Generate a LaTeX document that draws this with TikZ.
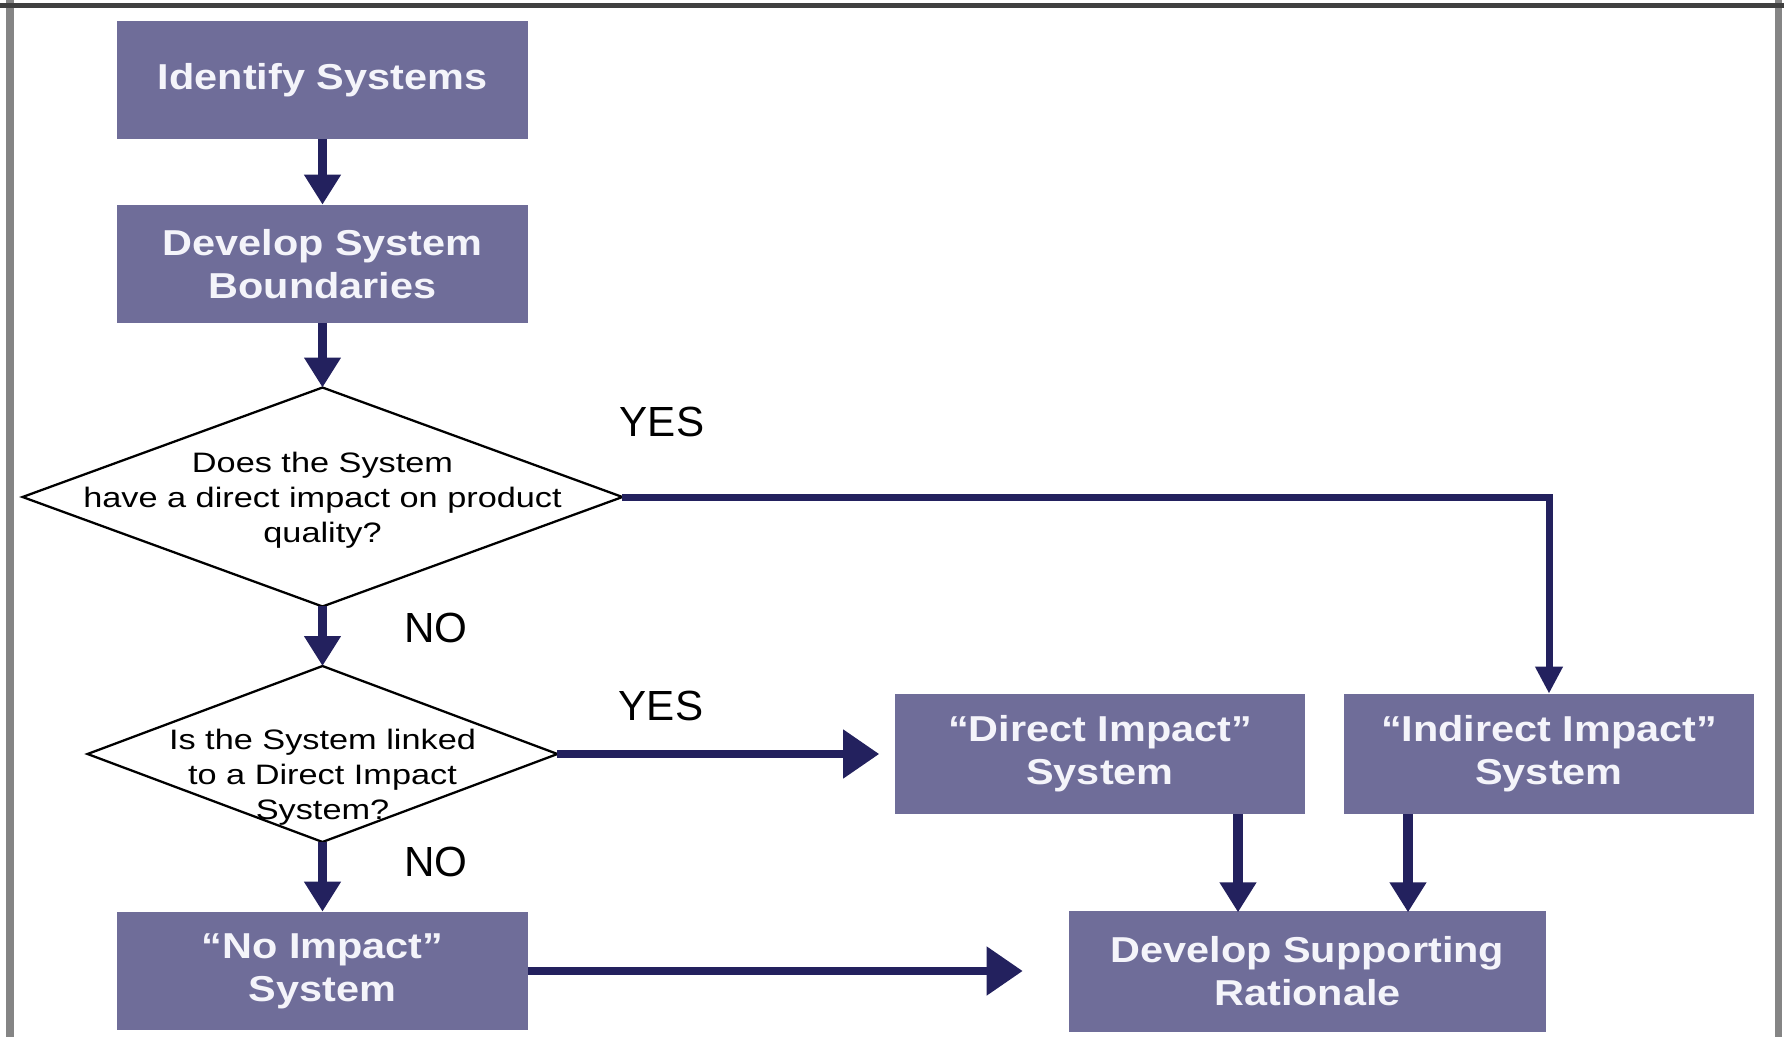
\documentclass[tikz,border=0pt]{standalone}
\usepackage{fontspec}
\setmainfont{Liberation Sans}
\newfontfamily\boxfont[FakeStretch=1.15]{Liberation Sans}
\newfontfamily\askfont[FakeStretch=1.22]{Liberation Sans}
\usetikzlibrary{shapes.geometric,arrows.meta}
\definecolor{boxblue}{HTML}{6F6D99}
\definecolor{arrowblue}{HTML}{23215E}
\definecolor{framegray}{HTML}{858585}
\definecolor{boxtext}{HTML}{F4F4FA}

\begin{document}
\begin{tikzpicture}[x=0.02cm,y=-0.02cm,
  stepbox/.style={fill=boxblue, text=boxtext, align=center, inner sep=0pt,
    minimum width=8.22cm, minimum height=2.36cm,
    font=\boxfont\bfseries\fontsize{20.5}{24.5}\selectfont},
  askbox/.style={draw, line width=1.3pt, shape=diamond, inner sep=0pt, outer sep=0pt},
  asktext/.style={align=center, inner sep=0pt, font=\askfont\fontsize{16}{19.8}\selectfont},
  answer/.style={inner sep=0pt, font=\fontsize{24}{28}\selectfont},
  flow/.style={draw=arrowblue, line width=0.19cm, -{Triangle[length=0.6cm,width=0.7cm]}},
  wideflow/.style={draw=arrowblue, line width=0.16cm, -{Triangle[length=0.72cm,width=0.94cm]}},
  thinflow/.style={draw=arrowblue, line width=0.14cm, -{Triangle[length=0.54cm,width=0.52cm]}}]
\useasboundingbox (0,0) rectangle (1784,1037);
\draw[framegray, line width=0.16cm] (10,0) -- (10,1037);
\draw[framegray, line width=0.14cm] (1778,0) -- (1778,1037);
\draw[black!75, line width=0.1cm] (0,6) -- (1784,6);

\node[stepbox] (ident) at (322.5,80) {Identify Systems};
\node[stepbox] (bound) at (322.5,264) {Develop System\\Boundaries};
\node[askbox, minimum width=12cm, minimum height=4.38cm] (dia1) at (322.5,497) {};
\node[asktext] (dia1t) at ([yshift=-0.07cm]dia1) {Does the System\\have a direct impact on product\\quality?};
\node[askbox, minimum width=9.4cm, minimum height=3.52cm] (dia2) at (322.5,754) {};
\node[asktext] (dia2t) at ([yshift=-0.46cm]dia2) {Is the System linked\\to a Direct Impact\\System?};
\node[stepbox] (noimp) at (322.5,971) {“No Impact”\\System};
\node[stepbox, minimum height=2.4cm] (direct) at (1100,754) {“Direct Impact”\\System};
\node[stepbox, minimum height=2.4cm] (indirect) at (1549,754) {“Indirect Impact”\\System};
\node[stepbox, minimum width=9.54cm, minimum height=2.42cm] (rational) at (1307.5,971) {Develop Supporting\\Rationale};

\node[answer] (yesA) at (662,422) {YES};
\node[answer] (noA) at (436,628) {NO};
\node[answer] (yesB) at (661,706) {YES};
\node[answer] (noB) at (436,862) {NO};

\draw[flow] (ident) -- (bound);
\draw[flow] (bound) -- (dia1);
\draw[flow] (dia1) -- (dia2);
\draw[flow] (dia2) -- (noimp);
\draw[thinflow] (dia1.east) -| (indirect.north);
\draw[wideflow] (dia2.east) -- ([xshift=-0.3cm]direct.west);
\draw[wideflow] (noimp.east) -- ([xshift=-0.92cm]rational.west);
\draw[flow] (direct.south) ++(138,0) -- ++(0,98);
\draw[flow] (indirect.south) ++(-141,0) -- ++(0,98);
\end{tikzpicture}
\end{document}
